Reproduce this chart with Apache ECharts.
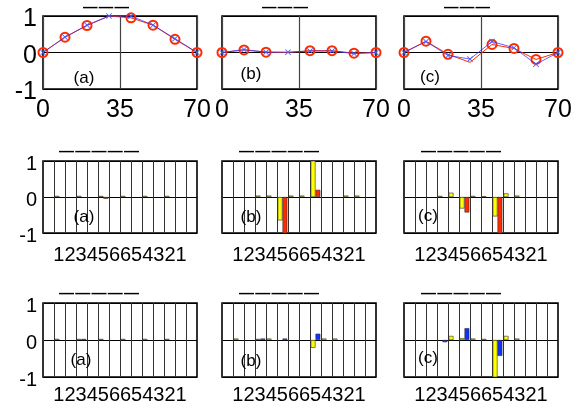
<!DOCTYPE html>
<html><head><meta charset="utf-8">
<script src="https://cdn.jsdelivr.net/npm/echarts@6/dist/echarts.min.js"></script>
<style>html,body{margin:0;padding:0;background:#fff}#c{width:588px;height:409px}</style>
</head><body><div id="c"></div>
<script>
// ---- data ----
const xVals = [0, 10, 20, 30, 40, 50, 60, 70];
const xTicks = [0, 35, 70];
const redA  = [0, 0.42, 0.74, 1.0, 0.95, 0.75, 0.36, 0];
const blueA = [0, 0.42, 0.75, 1.0, 1.0, 0.75, 0.38, 0];
const redB  = [0, 0.07, 0.01, 0.0, 0.05, 0.05, -0.02, 0];
const blueB = [0, 0.08, 0.01, 0.01, 0.04, 0.04, -0.03, 0];
const redC  = [0, 0.31, -0.05, -0.27, 0.22, 0.11, -0.19, 0];
const blueC = [0, 0.3, -0.08, -0.18, 0.3, 0.13, -0.32, 0];
const redMarked = [true, true, true, false, true, true, true, true];

const barCols = ['c1','c2','c3','c4','c5','c6','c7','c8','c9','c10','c11','c12','c13','c14'];
const barTickLabels = ['1','2','3','4','5','6','6','5','4','3','2','1'];
const midYellowA = [null,0.03,null,0.03,null,0.03,null,0.03,null,0.03,null,0.03,null,null];
const midRedA    = [null,null,null,null,null,-0.05,null,null,null,null,null,null,null,null];
const midYellowB = [null,null,null,0.04,0.04,-0.65,0.04,0.04,1.05,null,null,0.04,0.04,null];
const midRedB    = [null,null,null,null,null,-1.05,null,null,0.2,null,null,null,null,null];
const midYellowC = [null,null,null,0.03,0.12,-0.32,0.03,0.02,-0.54,0.1,0.04,null,null,null];
const midRedC    = [null,null,null,null,null,-0.43,null,null,-1.05,null,null,null,null,null];
const botYellowA = [null,0.03,null,0.03,null,0.03,null,0.03,null,0.03,null,0.03,null,null];
const botBlueA   = [null,null,null,0.03,null,null,null,null,null,null,null,null,null,null];
const botYellowB = [null,0.04,null,0.03,0.04,null,null,null,-0.21,0.04,0.04,null,null,null];
const botBlueB   = [null,null,null,0.04,null,0.04,null,null,0.17,null,null,null,null,null];
const botYellowC = [null,null,null,null,0.11,0.05,0.04,0.03,-1.05,0.11,0.04,null,null,null];
const botBlueC   = [null,null,null,-0.06,null,0.32,null,null,-0.43,null,null,null,null,null];

const panelTags = ['(a)', '(b)', '(c)'];
const titleTop = '\u2014\u200A\u2014\u200A\u2014';
const titleBar = '\u2014\u200A\u2014\u200A\u2014\u200A\u2014\u200A\u2014';

// ---- layout ----
const FONT = 'Liberation Sans, Arial, sans-serif';
const colLeft = [43, 222, 404];
const colW = 154;
const rowTop = [16, 161, 303];
const rowH = [73, 72, 74];

const grids = [], xAxes = [], yAxes = [], series = [], graphics = [];
const XMARK = 'path://M0,1L1,0L5,4L9,0L10,1L6,5L10,9L9,10L5,6L1,10L0,9L4,5Z';

for (let r = 0; r < 3; r++) {
  for (let c = 0; c < 3; c++) {
    const gi = grids.length;
    grids.push({left: colLeft[c], top: rowTop[r], width: colW, height: rowH[r],
      show: true, borderColor: '#000', borderWidth: 1.6, backgroundColor: '#fff'});
    yAxes.push({type: 'value', gridIndex: gi, min: -1, max: 1, interval: 1,
      axisLine: {show: false}, axisTick: {show: false},
      axisLabel: {show: c === 0, fontSize: r === 0 ? 25 : 20, color: '#000', margin: 6, fontFamily: FONT,
        verticalAlign: 'top', lineHeight: 7},
      splitLine: {show: true, lineStyle: {color: '#000', width: 1.2}}});
    if (r === 0) {
      xAxes.push({type: 'value', gridIndex: gi, min: 0, max: 70, interval: 35,
        axisLine: {show: false}, axisTick: {show: false},
        axisLabel: {show: true, fontSize: 25, color: '#000', margin: 9, fontFamily: FONT,
          showMinLabel: true, showMaxLabel: true},
        splitLine: {show: true, lineStyle: {color: '#444', width: 1.2}}});
      const reds = [redA, redB, redC][c], blues = [blueA, blueB, blueC][c];
      series.push({type: 'line', xAxisIndex: gi, yAxisIndex: gi,
        data: xVals.map((x, i) => redMarked[i] ? [x, reds[i]] : {value: [x, reds[i]], symbol: 'none'}),
        symbol: 'circle', symbolSize: 9, showAllSymbol: true,
        lineStyle: {color: '#ff2a00', width: 1},
        itemStyle: {color: 'rgba(255,255,255,0)', borderColor: '#ff2a00', borderWidth: 2},
        clip: false, z: 3});
      series.push({type: 'line', xAxisIndex: gi, yAxisIndex: gi, data: xVals.map((x, i) => [x, blues[i]]),
        symbol: XMARK, symbolSize: 6, showAllSymbol: true,
        lineStyle: {color: '#3030ff', width: 1, opacity: 0.75},
        itemStyle: {color: '#4060ff'}, clip: false, z: 4});
      graphics.push({type: 'text', left: [83, 262, 444][c], top: 0,
        style: {text: titleTop, font: 'bold 14.5px ' + FONT, fill: '#000'}});
    } else {
      xAxes.push({type: 'category', gridIndex: gi, data: barCols, boundaryGap: true,
        axisLine: {show: false}, axisTick: {show: false}, axisLabel: {show: false},
        splitLine: {show: true, interval: 0, lineStyle: {color: '#333', width: 1}},
        name: barTickLabels.join(''), nameLocation: 'middle', nameGap: r === 1 ? 12 : 8,
        nameTextStyle: {fontSize: 20, color: '#000', fontFamily: FONT}});
      const ys = r === 1 ? [midYellowA, midYellowB, midYellowC][c] : [botYellowA, botYellowB, botYellowC][c];
      const os = r === 1 ? [midRedA, midRedB, midRedC][c] : [botBlueA, botBlueB, botBlueC][c];
      const oc = r === 1 ? '#ff2a00' : '#1030ff';
      series.push({type: 'bar', xAxisIndex: gi, yAxisIndex: gi, data: ys,
        barGap: '0%', barCategoryGap: '12%',
        itemStyle: {color: '#ffff00', borderColor: '#333', borderWidth: 0.6}, z: 3});
      series.push({type: 'bar', xAxisIndex: gi, yAxisIndex: gi, data: os,
        barGap: '0%', barCategoryGap: '12%',
        itemStyle: {color: oc, borderColor: '#333', borderWidth: 0.6}, z: 3});
      graphics.push({type: 'text', left: [59, 239, 421][c], top: r === 1 ? 144 : 286,
        style: {text: titleBar, font: 'bold 15px ' + FONT, fill: '#000'}});
    }
  }
}
// panel tags
const tagPos = [
  [[84, 78], [251, 74], [430, 77]],
  [[84, 217], [251, 217], [428, 216]],
  [[81, 360], [251, 361], [428, 358]]
];
for (let r = 0; r < 3; r++) for (let c = 0; c < 3; c++) {
  graphics.push({type: 'text', x: tagPos[r][c][0], y: tagPos[r][c][1], z: 10,
    style: {text: panelTags[c], font: '17px ' + FONT, fill: '#000', align: 'center', verticalAlign: 'middle'}});
}

const chart = echarts.init(document.getElementById('c'), null, {renderer: 'canvas'});
chart.setOption({animation: false, grid: grids, xAxis: xAxes, yAxis: yAxes, series: series, graphic: graphics});
</script></body></html>
